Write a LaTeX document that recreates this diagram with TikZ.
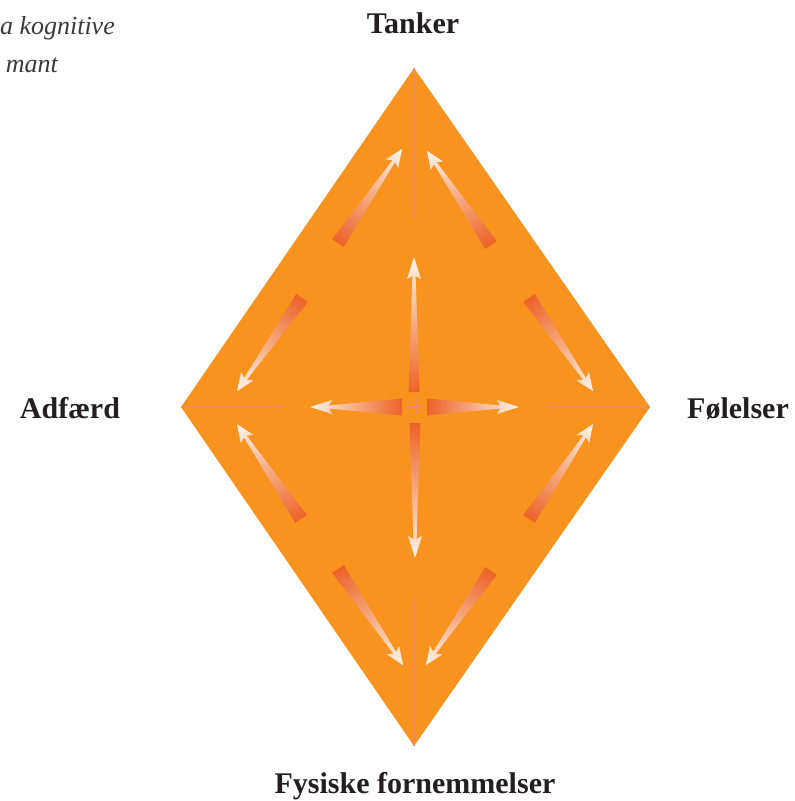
\documentclass[tikz,border=0pt]{standalone}
\usepackage{fontspec}
\setmainfont{Liberation Serif}
\definecolor{dfill}{HTML}{F7931E}
\definecolor{guidec}{HTML}{F38A62}
\definecolor{adark}{HTML}{EC6228}
\definecolor{amid}{HTML}{F7AA80}
\definecolor{alight}{HTML}{FFF5EC}
\definecolor{labelc}{HTML}{231F20}
\definecolor{captc}{HTML}{3A3A3A}
% tapered arrow: base x, base y, angle, length, base half-width, head length, head half-width
\newcommand\taparrow[7]{%
  \begin{scope}[transform canvas={shift={(#1,#2)},rotate=#3}]
    \shade[left color=adark,right color=alight,middle color=amid]
      (0,#5) -- ({#4-#6+3},1.6) -- ({#4-#6},#7) -- (#4,0) -- ({#4-#6},-#7)
      -- ({#4-#6+3},-1.6) -- (0,-#5) -- cycle;
  \end{scope}}
\tikzset{
  guide/.style={draw=guidec,line width=2pt},
  cornerlabel/.style={text=labelc,font=\fontsize{30}{36}\selectfont\bfseries,inner sep=0pt,anchor=base},
  caption/.style={text=captc,font=\fontsize{26}{32}\selectfont\itshape,inner sep=0pt,anchor=base east}
}
\begin{document}
\begin{tikzpicture}[x=1pt,y=-1pt]
  \useasboundingbox (0,0) rectangle (795,801);
  % diamond
  \coordinate (T) at (414,68);
  \coordinate (R) at (650,407);
  \coordinate (B) at (414,746);
  \coordinate (L) at (181,407);
  \fill[dfill] (T) -- (R) -- (B) -- (L) -- cycle;
  % faint guide lines
  \coordinate (Te) at (414,217);
  \coordinate (Be) at (414,598);
  \coordinate (Le) at (283,407);
  \coordinate (Re) at (545,407);
  \draw[guide] (T) -- (Te);
  \draw[guide] (B) -- (Be);
  \draw[guide] (L) -- (Le);
  \draw[guide] (R) -- (Re);
  % centre cross
  \coordinate (C) at (416,406);
  \draw[draw=guidec,line width=1.3pt] ([xshift=-8pt]C) -- ([xshift=8pt]C)
       ([yshift=-8pt]C) -- ([yshift=8pt]C);
  % central arrows
  \taparrow{414}{392}{90}{135}{5.5}{22}{7}
  \taparrow{415}{423}{-90}{135}{5.5}{22}{7}
  \taparrow{402}{407}{180}{92}{8.5}{22}{7}
  \taparrow{427}{407}{0}{92}{8.5}{22}{7}
  % diagonal arrows
  \taparrow{338}{243}{55.75}{114}{7}{18}{7.5}
  \taparrow{491}{245}{124.25}{114}{7}{18}{7.5}
  \taparrow{302}{298}{235.05}{113.5}{7}{18}{7.5}
  \taparrow{301}{519}{124.0}{114.5}{7}{18}{7.5}
  \taparrow{529}{298}{-55.5}{113}{7}{18}{7.5}
  \taparrow{529}{519}{56.0}{114.5}{7}{18}{7.5}
  \taparrow{338}{569}{-55.9}{116}{7}{18}{7.5}
  \taparrow{491}{571}{235.3}{114.3}{7}{18}{7.5}
  % labels
  \node[cornerlabel] (tanker) at (413,33) {Tanker};
  \node[cornerlabel] (adfaerd) at (70,418) {Adfærd};
  \node[cornerlabel] (folelser) at (738,418) {Følelser};
  \node[cornerlabel] (fysiske) at (415,793) {Fysiske fornemmelser};
  \node[caption] (cap1) at (115,34) {a kognitive};
  \node[caption] (cap2) at (58,72) {mant};
\end{tikzpicture}
\end{document}
